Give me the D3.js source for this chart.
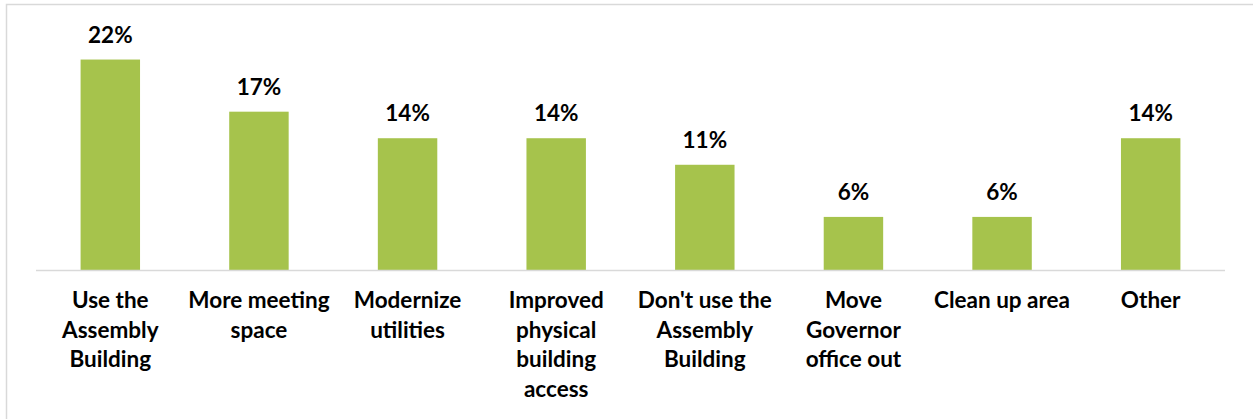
<!DOCTYPE html>
<html>
<head>
<meta charset="utf-8">
<script src="https://cdn.jsdelivr.net/npm/d3@7"></script>
<style>
  body { margin: 0; background: #fff; }
  text { font-family: Lato, "Open Sans", sans-serif; font-weight: bold; fill: #000; }
</style>
</head>
<body>
<div id="chart"></div>
<script>
(function () {
  // data (share of responses, %)
  const categories = [
    "Use the Assembly Building",
    "More meeting space",
    "Modernize utilities",
    "Improved physical building access",
    "Don't use the Assembly Building",
    "Move Governor office out",
    "Clean up area",
    "Other"
  ];
  const values = [22.2, 16.7, 13.9, 13.9, 11.1, 5.6, 5.6, 13.9];

  const width = 1253;
  const height = 419;
  const baseY = 270;
  const fontSize = 22.5;

  const svg = d3
    .select("#chart")
    .append("svg")
    .attr("width", width)
    .attr("height", height);

  // frame (only left and top edges show in the picture)
  svg.append("path")
    .attr("d", `M6.5,${height} V4.5 H${width}`)
    .attr("fill", "none")
    .attr("stroke", "#d9d9d9")
    .attr("stroke-width", 1.5);

  const x = d3.scaleBand()
    .domain(categories)
    .range([36, 1225])
    .paddingInner(0.6)
    .paddingOuter(0.3);

  const y = d3.scaleLinear()
    .domain([0, 25])
    .range([baseY, baseY - 25 * 9.48]);

  svg.selectAll("rect.bar")
    .data(values)
    .join("rect")
    .attr("class", "bar")
    .attr("x", (d, i) => x(categories[i]))
    .attr("width", x.bandwidth())
    .attr("y", d => y(d))
    .attr("height", d => y(0) - y(d))
    .attr("fill", "#a6c34c");

  // baseline
  svg.append("line")
    .attr("x1", 36).attr("x2", 1225)
    .attr("y1", baseY + 0.5).attr("y2", baseY + 0.5)
    .attr("stroke", "#d9d9d9")
    .attr("stroke-width", 1.5);

  // value labels
  svg.selectAll("text.val")
    .data(values)
    .join("text")
    .attr("class", "val")
    .attr("x", (d, i) => x(categories[i]) + x.bandwidth() / 2)
    .attr("y", d => y(d) - 17)
    .attr("text-anchor", "middle")
    .attr("font-size", fontSize)
    .text(d => Math.round(d) + "%");

  // category labels, wrapped to the slot width
  const maxW = 146;
  const lineH = 29.5;
  categories.forEach((cat, i) => {
    const t = svg.append("text")
      .attr("x", x(cat) + x.bandwidth() / 2)
      .attr("y", 308)
      .attr("text-anchor", "middle")
      .attr("font-size", fontSize);
    const words = cat.split(" ");
    let line = [];
    let ts = t.append("tspan").attr("x", t.attr("x")).attr("dy", 0);
    words.forEach(w => {
      line.push(w);
      ts.text(line.join(" "));
      if (ts.node().getComputedTextLength() > maxW && line.length > 1) {
        line.pop();
        ts.text(line.join(" "));
        line = [w];
        ts = t.append("tspan").attr("x", t.attr("x")).attr("dy", lineH).text(w);
      }
    });
  });
})();
</script>
</body>
</html>
